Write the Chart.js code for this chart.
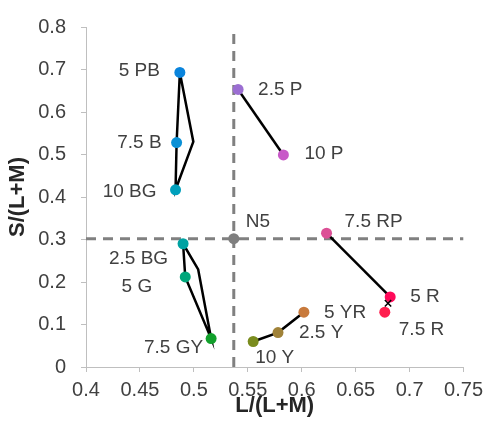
<!DOCTYPE html>
<html>
<head>
<meta charset="utf-8">
<script src="https://cdn.jsdelivr.net/npm/chart.js@4.4.1/dist/chart.umd.min.js"></script>
<style>
  body { margin: 0; background: #fff; }
  canvas { display: block; }
</style>
</head>
<body>
<canvas id="chart" width="489" height="433"></canvas>
<script>
// Munsell chips in MacLeod-Boynton space
const chipNames = ["5 PB", "7.5 B", "10 BG", "2.5 BG", "5 G", "7.5 GY", "10 Y", "2.5 Y",
                   "5 YR", "5 R", "7.5 R", "7.5 RP", "10 P", "2.5 P", "N5"];
const lmValues  = [0.487, 0.484, 0.483, 0.490, 0.492, 0.516, 0.555, 0.578,
                   0.602, 0.682, 0.677, 0.623, 0.583, 0.541, 0.537];
const sValues   = [0.693, 0.528, 0.417, 0.290, 0.212, 0.067, 0.060, 0.081,
                   0.129, 0.165, 0.129, 0.315, 0.499, 0.653, 0.302];

// unmarked bend points of the two outlines
const bendLm = [0.4995, 0.504];
const bendS  = [0.530, 0.2295];

// cross marker near 5 R
const crossLm = [0.680];
const crossS  = [0.150];

// neutral reference lines (N5)
const neutralLm = 0.537;
const neutralS = 0.302;

const xTicks = [0.4, 0.45, 0.5, 0.55, 0.6, 0.65, 0.7, 0.75];
const yTicks = [0, 0.1, 0.2, 0.3, 0.4, 0.5, 0.6, 0.7, 0.8];

const chipColors = ["#0a84dc", "#0a90d6", "#00a0bc", "#00a2a2", "#00a67a", "#12a02c",
                    "#7a8c1e", "#a08238", "#c87a3c", "#ff0a5a", "#ff1e4e", "#dc5096",
                    "#c85ac8", "#9b6ed2", "#7f7f7f"];

// label offsets in pixels [dx, dy, align]
const labelOffsets = [
  [-20, -2, "right"], [-15, 0, "right"], [-19, 2, "right"], [-15, 15, "right"],
  [-33, 10, "right"], [-8, 9, "right"], [2, 16, "left"], [21, 0, "left"],
  [20, 1, "left"], [20, 0, "left"], [14, 18, "left"], [18, -11, "left"],
  [21, -1, "left"], [20, 0, "left"], [12, -17, "left"]
];

function pt(name) {
  const i = chipNames.indexOf(name);
  return { x: lmValues[i], y: sValues[i] };
}
function bend(i) { return { x: bendLm[i], y: bendS[i] }; }

const outlines = [
  [pt("5 PB"), pt("7.5 B"), pt("10 BG"), bend(0), pt("5 PB")],
  [pt("2.5 BG"), pt("5 G"), pt("7.5 GY"), bend(1), pt("2.5 BG")],
  [pt("2.5 P"), pt("10 P")],
  [pt("7.5 RP"), pt("5 R")],
  [pt("10 Y"), pt("2.5 Y"), pt("5 YR")]
];

const datasets = [];

// dashed neutral lines
datasets.push({
  data: [{ x: neutralLm, y: 0 }, { x: neutralLm, y: 0.8 }],
  showLine: true, borderColor: "#808080", borderWidth: 3, borderDash: [10, 7],
  pointRadius: 0, order: 5
});
datasets.push({
  data: [{ x: 0.4, y: neutralS }, { x: 0.75, y: neutralS }],
  showLine: true, borderColor: "#808080", borderWidth: 3, borderDash: [10, 7],
  pointRadius: 0, order: 5
});

outlines.forEach(path => {
  datasets.push({
    data: path, showLine: true, borderColor: "#000", borderWidth: 2.5,
    pointRadius: 0, order: 4
  });
});

datasets.push({
  data: chipNames.map((n, i) => ({ x: lmValues[i], y: sValues[i] })),
  pointRadius: 5.5, pointBackgroundColor: chipColors, pointBorderWidth: 0,
  showLine: false, order: 2
});

datasets.push({
  data: crossLm.map((x, i) => ({ x: x, y: crossS[i] })),
  pointStyle: "crossRot", pointRadius: 4.5, pointBorderColor: "#000",
  pointBorderWidth: 1.5, showLine: false, order: 1
});

const chipLabels = {
  id: "chipLabels",
  afterDatasetsDraw(chart) {
    const ctx = chart.ctx;
    const xs = chart.scales.x, ys = chart.scales.y;
    ctx.save();
    ctx.font = "19px 'Liberation Sans', Arial, sans-serif";
    ctx.fillStyle = "#404040";
    ctx.textBaseline = "middle";
    chipNames.forEach((name, i) => {
      const off = labelOffsets[i];
      ctx.textAlign = off[2];
      ctx.fillText(name, xs.getPixelForValue(lmValues[i]) + off[0],
                   ys.getPixelForValue(sValues[i]) + off[1]);
    });
    ctx.restore();
  }
};

const tickFont = { family: "'Liberation Sans', Arial, sans-serif", size: 20 };
const titleFont = { family: "'Liberation Sans', Arial, sans-serif", size: 22, weight: "bold" };
const fmt = v => String(Math.round(v * 100) / 100);

new Chart(document.getElementById("chart"), {
  type: "scatter",
  data: { datasets: datasets },
  options: {
    responsive: false,
    animation: false,
    layout: { padding: { top: 23, right: 22, left: 0, bottom: 0 } },
    plugins: { legend: { display: false }, tooltip: { enabled: false } },
    scales: {
      x: {
        type: "linear", min: 0.4, max: 0.75,
        afterBuildTicks: s => { s.ticks = xTicks.map(v => ({ value: v })); },
        afterFit: s => { s.height = 66; },
        grid: { drawOnChartArea: false, drawTicks: true, tickLength: 5, color: "#bfbfbf" },
        border: { color: "#bfbfbf", width: 1 },
        ticks: { font: tickFont, color: "#404040", padding: 6, callback: fmt },
        title: { display: true, text: "L/(L+M)", font: titleFont, color: "#262626",
                 padding: { top: 0, bottom: 14 } }
      },
      y: {
        type: "linear", min: 0, max: 0.8,
        afterBuildTicks: s => { s.ticks = yTicks.map(v => ({ value: v })); },
        afterFit: s => { s.width = 86; },
        grid: { drawOnChartArea: false, drawTicks: true, tickLength: 5, color: "#bfbfbf" },
        border: { color: "#bfbfbf", width: 1 },
        ticks: { font: tickFont, color: "#404040", padding: 15, callback: fmt },
        title: { display: true, text: "S/(L+M)", font: titleFont, color: "#262626",
                 padding: { top: 5, bottom: 0 } }
      }
    }
  },
  plugins: [chipLabels]
});
</script>
</body>
</html>
